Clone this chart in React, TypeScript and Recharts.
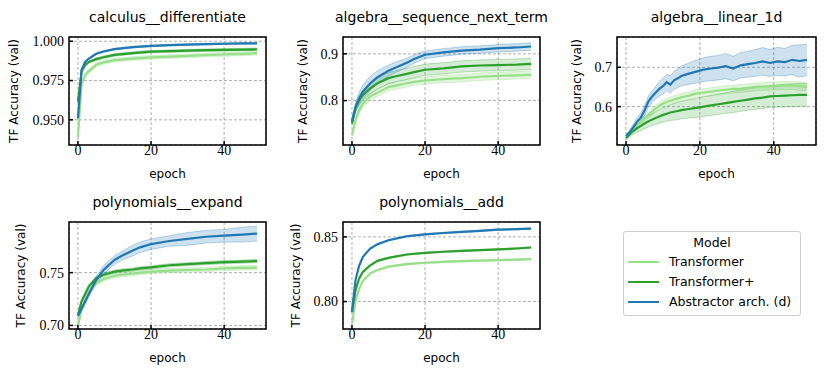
import React from 'react';
import { ComposedChart, Line, Area, XAxis, YAxis, CartesianGrid, ReferenceArea } from 'recharts';

const C_T = '#98df8a';
const C_TP = '#2ca02c';
const C_AB = '#1f77b4';
const SERIES_NAMES = ['Transformer', 'Transformer+', 'Abstractor arch. (d)'];
const X_TICKS = [0, 20, 40];
const X_DOMAIN: [number, number] = [-2.45, 51.45];

// ---- calculus__differentiate
const e1 = [0, 1, 2, 3, 5, 7, 10, 15, 20, 25, 30, 35, 40, 45, 49];
const p1T = [0.939, 0.973, 0.9786, 0.981, 0.985, 0.9866, 0.988, 0.989, 0.9898, 0.9902, 0.9907, 0.9912, 0.9916, 0.992, 0.9924];
const p1TP = [0.9616, 0.981, 0.985, 0.9868, 0.9886, 0.9898, 0.9913, 0.9925, 0.9934, 0.9937, 0.994, 0.9943, 0.9945, 0.9947, 0.9949];
const p1AB = [0.951, 0.9818, 0.987, 0.989, 0.992, 0.9935, 0.995, 0.9962, 0.997, 0.9975, 0.9979, 0.9982, 0.9984, 0.9986, 0.9987];
const p1sdT = [0.002, 0.0015, 0.0012, 0.0012, 0.0012, 0.0012, 0.0012, 0.0012, 0.0012, 0.0012, 0.0012, 0.0012, 0.0012, 0.0012, 0.0012];
const p1sdTP = [0.001, 0.0008, 0.0008, 0.0008, 0.0008, 0.0008, 0.0008, 0.0008, 0.0008, 0.0008, 0.0008, 0.0008, 0.0008, 0.0008, 0.0008];
const p1sdAB = [0.001, 0.0005, 0.0005, 0.0005, 0.0005, 0.0005, 0.0005, 0.0005, 0.0005, 0.0005, 0.0005, 0.0005, 0.0005, 0.0005, 0.0005];

// ---- algebra__sequence_next_term
const e2 = [0, 1, 2, 3, 5, 7, 10, 12, 15, 17, 20, 25, 30, 35, 40, 45, 49];
const p2T = [0.726, 0.759, 0.78, 0.794, 0.809, 0.817, 0.829, 0.832, 0.837, 0.84, 0.843, 0.846, 0.848, 0.851, 0.853, 0.854, 0.855];
const p2TP = [0.751, 0.784, 0.801, 0.812, 0.826, 0.837, 0.848, 0.852, 0.857, 0.861, 0.866, 0.869, 0.873, 0.875, 0.876, 0.877, 0.8786];
const p2AB = [0.755, 0.787, 0.805, 0.819, 0.837, 0.85, 0.864, 0.871, 0.881, 0.889, 0.898, 0.903, 0.907, 0.909, 0.912, 0.9136, 0.9157];
const p2sdT = [0.004, 0.007, 0.008, 0.008, 0.008, 0.008, 0.008, 0.008, 0.008, 0.008, 0.008, 0.008, 0.008, 0.008, 0.008, 0.008, 0.008];
const p2sdTP = [0.004, 0.008, 0.01, 0.011, 0.012, 0.012, 0.012, 0.012, 0.012, 0.012, 0.012, 0.012, 0.012, 0.012, 0.012, 0.012, 0.012];
const p2sdAB = [0.005, 0.01, 0.013, 0.015, 0.015, 0.014, 0.012, 0.011, 0.01, 0.009, 0.008, 0.008, 0.008, 0.008, 0.008, 0.008, 0.008];

// ---- algebra__linear_1d
const e3 = [0, 1, 2, 3, 4, 5, 6, 7, 8, 9, 10, 11, 12, 13, 14, 15, 17, 19, 21, 23, 25, 27, 29, 31, 33, 35, 37, 39, 41, 43, 45, 47, 49];
const p3T = [0.52, 0.532, 0.543, 0.553, 0.562, 0.571, 0.579, 0.587, 0.595, 0.602, 0.608, 0.612, 0.615, 0.618, 0.621, 0.624, 0.628, 0.633, 0.636, 0.638, 0.641, 0.643, 0.645, 0.646, 0.648, 0.65, 0.651, 0.652, 0.653, 0.654, 0.654, 0.652, 0.65];
const p3TP = [0.52, 0.53, 0.538, 0.545, 0.551, 0.557, 0.562, 0.567, 0.571, 0.575, 0.579, 0.582, 0.585, 0.587, 0.589, 0.591, 0.594, 0.597, 0.6, 0.603, 0.606, 0.609, 0.612, 0.615, 0.618, 0.621, 0.623, 0.626, 0.627, 0.628, 0.629, 0.63, 0.63];
const p3AB = [0.525, 0.535, 0.548, 0.562, 0.572, 0.59, 0.612, 0.625, 0.635, 0.645, 0.652, 0.662, 0.656, 0.667, 0.672, 0.678, 0.684, 0.689, 0.694, 0.697, 0.699, 0.703, 0.697, 0.705, 0.708, 0.711, 0.715, 0.711, 0.715, 0.713, 0.719, 0.716, 0.719];
const p3sdT = [0.003, 0.004, 0.005, 0.006, 0.006, 0.007, 0.007, 0.008, 0.008, 0.008, 0.009, 0.009, 0.009, 0.009, 0.009, 0.01, 0.01, 0.01, 0.01, 0.01, 0.01, 0.01, 0.01, 0.01, 0.01, 0.01, 0.01, 0.01, 0.01, 0.011, 0.01, 0.011, 0.01];
const p3sdTP = [0.004, 0.006, 0.008, 0.01, 0.012, 0.013, 0.014, 0.015, 0.016, 0.017, 0.018, 0.019, 0.02, 0.021, 0.022, 0.022, 0.023, 0.024, 0.025, 0.025, 0.026, 0.026, 0.027, 0.027, 0.027, 0.028, 0.028, 0.028, 0.028, 0.029, 0.029, 0.029, 0.029];
const p3sdAB = [0.005, 0.006, 0.008, 0.01, 0.011, 0.012, 0.014, 0.015, 0.016, 0.018, 0.02, 0.021, 0.022, 0.023, 0.024, 0.025, 0.027, 0.029, 0.03, 0.031, 0.031, 0.032, 0.031, 0.032, 0.033, 0.034, 0.035, 0.034, 0.036, 0.035, 0.037, 0.041, 0.04];

// ---- polynomials__expand
const e4 = [0, 1, 2, 3, 5, 7, 10, 12, 15, 17, 20, 25, 30, 35, 40, 45, 49];
const p4T = [0.7, 0.715, 0.724, 0.732, 0.74, 0.744, 0.747, 0.748, 0.749, 0.75, 0.751, 0.752, 0.7525, 0.753, 0.754, 0.7545, 0.7547];
const p4TP = [0.71, 0.723, 0.73, 0.737, 0.745, 0.748, 0.751, 0.752, 0.753, 0.754, 0.755, 0.757, 0.758, 0.759, 0.76, 0.7605, 0.761];
const p4AB = [0.709, 0.716, 0.723, 0.73, 0.743, 0.7525, 0.762, 0.766, 0.771, 0.774, 0.777, 0.78, 0.782, 0.784, 0.785, 0.786, 0.787];
const p4sdT = [0.002, 0.002, 0.002, 0.002, 0.002, 0.002, 0.002, 0.002, 0.002, 0.002, 0.002, 0.002, 0.002, 0.002, 0.002, 0.002, 0.002];
const p4sdTP = [0.0015, 0.0015, 0.0015, 0.0015, 0.0015, 0.0015, 0.0015, 0.0015, 0.0015, 0.0015, 0.0015, 0.0015, 0.0015, 0.0015, 0.0015, 0.0015, 0.0015];
const p4sdAB = [0.002, 0.002, 0.003, 0.003, 0.003, 0.004, 0.004, 0.004, 0.005, 0.005, 0.005, 0.005, 0.006, 0.006, 0.006, 0.007, 0.007];

// ---- polynomials__add
const e5 = [0, 1, 2, 3, 5, 7, 10, 15, 20, 25, 30, 35, 40, 45, 49];
const p5T = [0.783, 0.801, 0.81, 0.816, 0.8218, 0.8244, 0.827, 0.829, 0.83, 0.8307, 0.8313, 0.8317, 0.832, 0.8324, 0.8328];
const p5TP = [0.792, 0.809, 0.818, 0.823, 0.828, 0.8315, 0.8338, 0.8364, 0.8377, 0.8385, 0.8392, 0.8398, 0.8403, 0.841, 0.8418];
const p5AB = [0.792, 0.817, 0.828, 0.8346, 0.841, 0.8444, 0.8474, 0.8505, 0.852, 0.853, 0.8538, 0.8547, 0.8556, 0.856, 0.8564];
const p5sdT = [0.001, 0.0006, 0.0006, 0.0006, 0.0006, 0.0006, 0.0006, 0.0006, 0.0006, 0.0006, 0.0006, 0.0006, 0.0006, 0.0006, 0.0006];
const p5sdTP = [0.001, 0.0005, 0.0005, 0.0005, 0.0005, 0.0005, 0.0005, 0.0005, 0.0005, 0.0005, 0.0005, 0.0005, 0.0005, 0.0005, 0.0005];
const p5sdAB = [0.001, 0.0005, 0.0005, 0.0005, 0.0005, 0.0005, 0.0005, 0.0005, 0.0005, 0.0005, 0.0005, 0.0005, 0.0005, 0.0005, 0.0005];

const SANS = '"DejaVu Sans", sans-serif';
const SERIF = '"Liberation Serif", serif';

const PL = 68; // plot left in chart coords
const PT = 30; // plot top in chart coords
const XH = 45; // x axis band height
const PR = 10;

type PanelProps = {
  left: number; top: number; w: number; h: number;
  title: string;
  yDomain: [number, number];
  yTicks: number[];
  decimals: number;
  ylabGap: number;
  epochs: number[];
  t: number[]; tp: number[]; ab: number[];
  sdT: number[]; sdTP: number[]; sdAB: number[];
};

function Panel(p: PanelProps) {
  const rows = p.epochs.map((e, i) => ({
    epoch: e,
    t: p.t[i],
    tp: p.tp[i],
    ab: p.ab[i],
    tBand: [p.t[i] - p.sdT[i], p.t[i] + p.sdT[i]],
    tpBand: [p.tp[i] - p.sdTP[i], p.tp[i] + p.sdTP[i]],
    abBand: [p.ab[i] - p.sdAB[i], p.ab[i] + p.sdAB[i]],
  }));
  const W = PL + p.w + PR;
  const H = PT + p.h + XH;
  const bottom = PT + p.h;

  const YTick = (props: any) => {
    const { y, payload } = props;
    return (
      <g>
        <line x1={PL} x2={PL + 4} y1={y} y2={y} stroke="#000" strokeWidth={1.5} />
        <text x={PL - 5} y={y} dy="0.35em" textAnchor="end" fontFamily={SERIF} fontSize={14} fill="#000">
          {Number(payload.value).toFixed(p.decimals)}
        </text>
      </g>
    );
  };
  const XTick = (props: any) => {
    const { x, payload } = props;
    return (
      <g>
        <line x1={x} x2={x} y1={bottom} y2={bottom - 4} stroke="#000" strokeWidth={1.5} />
        <text x={x} y={bottom + 10} textAnchor="middle" fontFamily={SERIF} fontSize={14} fill="#000">
          {String(payload.value)}
        </text>
      </g>
    );
  };

  return (
    <div style={{ position: 'absolute', left: p.left - PL, top: p.top - PT, width: W, height: H }}>
      <ComposedChart width={W} height={H} data={rows} margin={{ top: PT, right: PR, bottom: 0, left: 0 }}>
        <CartesianGrid stroke="#9a9a9a" strokeDasharray="3 2" strokeWidth={0.8} />
        <XAxis
          dataKey="epoch"
          type="number"
          domain={X_DOMAIN}
          ticks={X_TICKS}
          allowDataOverflow
          axisLine={false}
          tickLine={false}
          tick={<XTick />}
          height={XH}
          label={{
            content: () => (
              <text x={PL + p.w / 2} y={bottom + 33} textAnchor="middle" fontFamily={SANS} fontSize={12} fill="#000">
                epoch
              </text>
            ),
          }}
        />
        <YAxis
          type="number"
          domain={p.yDomain}
          ticks={p.yTicks}
          allowDataOverflow
          axisLine={false}
          tickLine={false}
          tick={<YTick />}
          width={PL}
          label={{
            content: () => (
              <text
                x={PL - p.ylabGap}
                y={PT + p.h / 2}
                transform={`rotate(-90 ${PL - p.ylabGap} ${PT + p.h / 2})`}
                textAnchor="middle"
                fontFamily={SANS}
                fontSize={12}
                fill="#000"
              >
                TF Accuracy (val)
              </text>
            ),
          }}
        />
        <Area dataKey="tBand" type="linear" stroke={C_T} strokeOpacity={0.35} strokeWidth={1} fill={C_T} fillOpacity={0.3} isAnimationActive={false} dot={false} activeDot={false} />
        <Area dataKey="tpBand" type="linear" stroke={C_TP} strokeOpacity={0.3} strokeWidth={1} fill={C_TP} fillOpacity={0.2} isAnimationActive={false} dot={false} activeDot={false} />
        <Area dataKey="abBand" type="linear" stroke={C_AB} strokeOpacity={0.3} strokeWidth={1} fill={C_AB} fillOpacity={0.22} isAnimationActive={false} dot={false} activeDot={false} />
        <Line dataKey="t" name={SERIES_NAMES[0]} type="linear" stroke={C_T} strokeWidth={2.2} dot={false} isAnimationActive={false} />
        <Line dataKey="tp" name={SERIES_NAMES[1]} type="linear" stroke={C_TP} strokeWidth={2.2} dot={false} isAnimationActive={false} />
        <Line dataKey="ab" name={SERIES_NAMES[2]} type="linear" stroke={C_AB} strokeWidth={2.2} dot={false} isAnimationActive={false} />
        <ReferenceArea
          x1={X_DOMAIN[0]}
          x2={X_DOMAIN[1]}
          y1={p.yDomain[0]}
          y2={p.yDomain[1]}
          fill="none"
          fillOpacity={0}
          stroke="#000"
          strokeWidth={1.5}
          ifOverflow="visible"
        />
      </ComposedChart>
      <div
        style={{
          position: 'absolute',
          left: PL - 20,
          width: p.w + 40,
          top: PT - 28,
          textAlign: 'center',
          fontFamily: SANS,
          fontSize: 14,
          lineHeight: '17px',
          color: '#000',
          whiteSpace: 'nowrap',
        }}
      >
        {p.title}
      </div>
    </div>
  );
}

function LegendBox() {
  const colors = [C_T, C_TP, C_AB];
  return (
    <div
      style={{
        position: 'absolute',
        left: 623,
        top: 231,
        width: 176,
        height: 83,
        border: '1.2px solid #cccccc',
        borderRadius: 3,
        fontFamily: SANS,
        fontSize: 12.5,
        color: '#000',
        background: '#fff',
      }}
    >
      <div style={{ position: 'absolute', left: 0, width: 176, top: 3, textAlign: 'center', lineHeight: '16px' }}>Model</div>
      {SERIES_NAMES.map((n, i) => (
        <div key={n} style={{ position: 'absolute', left: 0, top: 22 + i * 20, height: 16, width: 176 }}>
          <div style={{ position: 'absolute', left: 4, top: 7, width: 31, height: 2.2, background: colors[i] }} />
          <div style={{ position: 'absolute', left: 45, top: 0, lineHeight: '16px', whiteSpace: 'nowrap' }}>{n}</div>
        </div>
      ))}
    </div>
  );
}

export default function App() {
  return (
    <div style={{ position: 'absolute', left: 0, top: 0, width: 830, height: 383, background: '#fff', overflow: 'hidden' }}>
      <Panel left={69} top={37} w={197} h={108} title="calculus__differentiate" yDomain={[0.934, 1.0027]} yTicks={[0.95, 0.975, 1.0]} decimals={3} ylabGap={51}
        epochs={e1} t={p1T} tp={p1TP} ab={p1AB} sdT={p1sdT} sdTP={p1sdTP} sdAB={p1sdAB} />
      <Panel left={343} top={37} w={197} h={108} title="algebra__sequence_next_term" yDomain={[0.705, 0.936]} yTicks={[0.8, 0.9]} decimals={1} ylabGap={36}
        epochs={e2} t={p2T} tp={p2TP} ab={p2AB} sdT={p2sdT} sdTP={p2sdTP} sdAB={p2sdAB} />
      <Panel left={617} top={37} w={199} h={108} title="algebra__linear_1d" yDomain={[0.5025, 0.777]} yTicks={[0.6, 0.7]} decimals={1} ylabGap={36}
        epochs={e3} t={p3T} tp={p3TP} ab={p3AB} sdT={p3sdT} sdTP={p3sdTP} sdAB={p3sdAB} />
      <Panel left={69} top={222} w={197} h={107} title="polynomials__expand" yDomain={[0.6966, 0.798]} yTicks={[0.7, 0.75]} decimals={2} ylabGap={44}
        epochs={e4} t={p4T} tp={p4TP} ab={p4AB} sdT={p4sdT} sdTP={p4sdTP} sdAB={p4sdAB} />
      <Panel left={343} top={222} w={197} h={107} title="polynomials__add" yDomain={[0.7788, 0.8615]} yTicks={[0.8, 0.85]} decimals={2} ylabGap={43}
        epochs={e5} t={p5T} tp={p5TP} ab={p5AB} sdT={p5sdT} sdTP={p5sdTP} sdAB={p5sdAB} />
      <LegendBox />
    </div>
  );
}
